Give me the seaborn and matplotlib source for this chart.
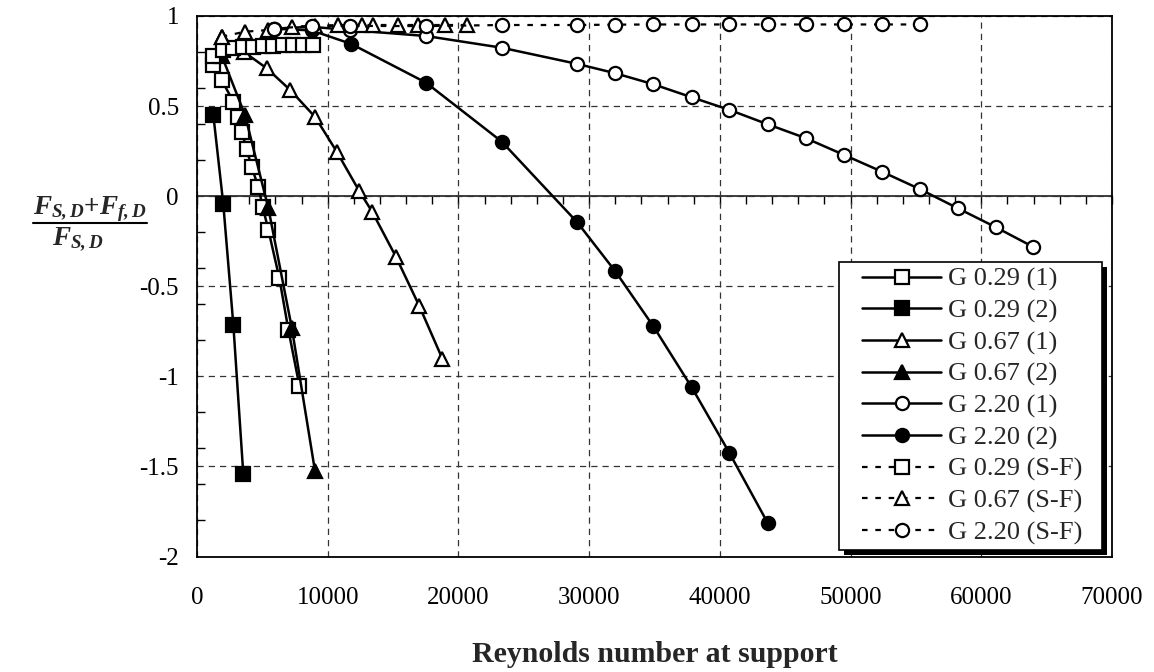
import numpy as np
import pandas as pd
import matplotlib
matplotlib.use("Agg")
import matplotlib.pyplot as plt
from matplotlib.ticker import MultipleLocator, NullFormatter
from matplotlib.patches import Rectangle
from matplotlib.lines import Line2D
import seaborn as sns

# ---- data -------------------------------------------------------------
g029_1_x = [1250, 1880, 2780, 3100, 3420, 3800, 4180, 4690, 5030, 5460, 6300, 6990, 7830]
g029_1_y = [0.728, 0.645, 0.525, 0.44, 0.358, 0.261, 0.161, 0.053, -0.061, -0.187, -0.455, -0.741, -1.052]

g029_2_x = [1250, 2010, 2780, 3540]
g029_2_y = [0.45, -0.043, -0.714, -1.54]

g067_1_x = [1890, 3600, 5330, 7120, 9030, 10690, 12400, 13420, 15230, 16990, 18770]
g067_1_y = [0.885, 0.80, 0.71, 0.59, 0.44, 0.247, 0.03, -0.089, -0.338, -0.607, -0.902]

g067_2_x = [1890, 3670, 5460, 7250, 9030]
g067_2_y = [0.78, 0.451, -0.067, -0.73, -1.527]

g220_1_x = [5900, 8770, 11700, 17520, 23310, 29100, 32010, 34920, 37840, 40730,
            43660, 46570, 49500, 52400, 55300, 58200, 61100, 63930]
g220_1_y = [0.93, 0.94, 0.922, 0.889, 0.824, 0.734, 0.682, 0.621, 0.549, 0.479,
            0.399, 0.322, 0.229, 0.136, 0.039, -0.067, -0.172, -0.28]

g220_2_x = [5900, 8770, 11800, 17520, 23310, 29100, 32010, 34920, 37840, 40730, 43660]
g220_2_y = [0.93, 0.92, 0.845, 0.63, 0.303, -0.146, -0.418, -0.723, -1.06, -1.425, -1.814]

g029_sf_x = [1250, 2010, 2780, 3540, 4310, 5070, 5840, 6600, 7370, 8130, 8900]
g029_sf_y = [0.78, 0.81, 0.82, 0.83, 0.83, 0.835, 0.835, 0.84, 0.84, 0.84, 0.84]

g067_sf_x = [1890, 3670, 5460, 7250, 9030, 10810, 12600, 13490, 15400, 16930, 18980, 20630]
g067_sf_y = [0.885, 0.913, 0.922, 0.94, 0.945, 0.95, 0.95, 0.95, 0.95, 0.95, 0.95, 0.95]

g220_sf_x = [5900, 8770, 11700, 17520, 23310, 29100, 32010, 34920, 37840, 40730, 43660,
             46570, 49500, 52400, 55300]
g220_sf_y = [0.93, 0.945, 0.945, 0.944, 0.95, 0.95, 0.952, 0.953, 0.953, 0.953, 0.953,
             0.953, 0.953, 0.953, 0.953]

labels = ["G 0.29 (1)", "G 0.29 (2)", "G 0.67 (1)", "G 0.67 (2)", "G 2.20 (1)",
          "G 2.20 (2)", "G 0.29 (S-F)", "G 0.67 (S-F)", "G 2.20 (S-F)"]

x_ticks = [0, 10000, 20000, 30000, 40000, 50000, 60000, 70000]
y_ticks = [-2, -1.5, -1, -0.5, 0, 0.5, 1]

dotted = (0, (2.5, 3.5))
series = [
    (g029_1_x, g029_1_y, "s", False, "-"),
    (g029_2_x, g029_2_y, "s", True, "-"),
    (g067_1_x, g067_1_y, "^", False, "-"),
    (g067_2_x, g067_2_y, "^", True, "-"),
    (g220_1_x, g220_1_y, "o", False, "-"),
    (g220_2_x, g220_2_y, "o", True, "-"),
    (g029_sf_x, g029_sf_y, "s", False, dotted),
    (g067_sf_x, g067_sf_y, "^", False, dotted),
    (g220_sf_x, g220_sf_y, "o", False, dotted),
]

# ---- style ------------------------------------------------------------
sns.set_theme(style="white")
plt.rcParams["font.family"] = ["Liberation Serif", "DejaVu Serif"]
plt.rcParams["mathtext.fontset"] = "custom"
plt.rcParams["mathtext.rm"] = "Liberation Serif"
plt.rcParams["mathtext.it"] = "Liberation Serif:italic"
plt.rcParams["mathtext.bf"] = "Liberation Serif:bold"
plt.rcParams["mathtext.bfit"] = "Liberation Serif:italic:bold"

fig = plt.figure(figsize=(11.54, 6.72), dpi=100)
ax = fig.add_axes([197 / 1154, 1 - 556.5 / 672, 915 / 1154, 540.5 / 672])

for (xs, ys, mk, filled, ls), lab in zip(series, labels):
    df = pd.DataFrame({"x": xs, "y": ys})
    sns.lineplot(data=df, x="x", y="y", ax=ax, sort=False, estimator=None,
                 color="black", linewidth=1.8 if ls == "-" else 1.6,
                 linestyle=ls, marker=mk,
                 markersize=9.5,
                 markerfacecolor="black" if filled else "white",
                 markeredgecolor="black", markeredgewidth=1.6,
                 label=lab, legend=False)

ax.set_xlim(0, 70000)
ax.set_ylim(-2, 1)
ax.set_xticks(x_ticks)
ax.set_yticks(y_ticks)
ax.set_xticklabels([f"{t:d}" for t in x_ticks])
ax.set_yticklabels([f"{t:g}" for t in y_ticks])
ax.yaxis.set_minor_locator(MultipleLocator(0.2))

ax.grid(True, which="major", color="#333333", linestyle=(0, (5, 4)), linewidth=0.9)
ax.set_axisbelow(True)
for s in ax.spines.values():
    s.set_color("black")
    s.set_linewidth(1.3)

ax.tick_params(axis="y", which="major", direction="out", length=7, width=1.2,
               labelsize=18, pad=6, colors="black")
ax.tick_params(axis="y", which="minor", direction="in", length=6, width=1.0,
               left=True, colors="black")
ax.tick_params(axis="x", which="major", direction="out", length=0,
               labelsize=18, pad=22, colors="black")

# horizontal axis line at zero carrying the minor ticks
zero_frac = (0 - (-2)) / 3.0
sec = ax.secondary_xaxis(zero_frac)
sec.set_xticks(np.arange(0, 70001, 2000))
sec.xaxis.set_major_formatter(NullFormatter())
sec.tick_params(axis="x", direction="in", length=6, width=1.0, colors="black")
sec.spines["bottom"].set_linewidth(1.3)
sec.spines["bottom"].set_color("black")

ax.set_xlabel("Reynolds number at support", fontsize=21.5, fontweight="bold",
              labelpad=23)
ax.set_ylabel("")
num = fig.text(90 / 1154, 1 - 214 / 672,
               r"$\mathbfit{F}_{\mathbfit{S,D}}\mathbf{+}\mathbfit{F}_{\mathbfit{f,D}}$",
               fontsize=19.5, ha="center", va="baseline")
fig.text(78 / 1154, 1 - 244 / 672,
         r"$\mathbfit{F}_{\mathbfit{S,D}}$", fontsize=19.5, ha="center", va="baseline")

handles, labs = ax.get_legend_handles_labels()
leg = ax.legend(handles, labs, loc="upper left", bbox_to_anchor=(0.717, 0.552),
                borderaxespad=0, frameon=False,
                fontsize=19, handlelength=3.0, handletextpad=0.23,
                labelspacing=0.295, borderpad=0.35)
leg.set_zorder(7)

# legend frame with a solid drop shadow
fig.canvas.draw()
bb = leg.get_window_extent()
fx0, fx1 = bb.x0 - 14, bb.x1 + 11
fy0, fy1 = bb.y0 + 4, bb.y1 - 4
shadow = Rectangle((fx0 + 5, fy0 - 5), fx1 - fx0, fy1 - fy0, transform=None,
                   facecolor="black", edgecolor="none", zorder=5, clip_on=False)
frame = Rectangle((fx0, fy0), fx1 - fx0, fy1 - fy0, transform=None,
                  facecolor="white", edgecolor="black", linewidth=1.2, zorder=6,
                  clip_on=False)
ax.add_artist(shadow)
ax.add_artist(frame)

# fraction bar under the numerator
nb = num.get_window_extent()
fig.add_artist(Line2D([nb.x0, nb.x1], [nb.y0 + 1, nb.y0 + 1], transform=None,
                      color="black", linewidth=1.5))

fig.savefig("out.png", dpi=100)
